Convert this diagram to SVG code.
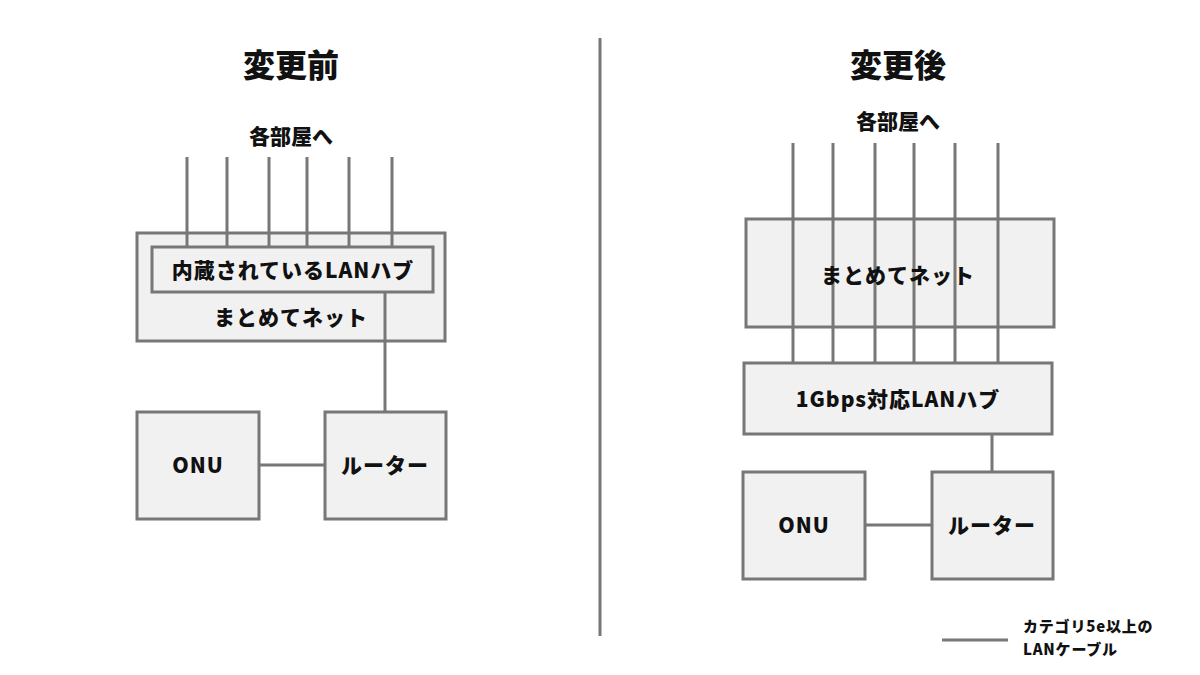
<svg xmlns="http://www.w3.org/2000/svg" width="1200" height="675" viewBox="0 0 1200 675">
<style>
.box{fill:#f1f1f1;stroke:#777;stroke-width:3}
.ln{stroke:#777;stroke-width:3;fill:none}
text{font-family:"Noto Sans CJK JP","Liberation Sans",sans-serif;font-weight:900;fill:#111;text-anchor:middle}
.title{font-size:32px}
.sub{font-size:21px}
.lbl{font-size:21px;letter-spacing:1px}
.leg{font-size:15px;letter-spacing:0.8px;text-anchor:start}
</style>
<rect width="1200" height="675" fill="#fff"/>
<g id="divider"><line class="ln" x1="600" y1="38" x2="600" y2="636" stroke-width="4"/></g>
<g id="titles">
<text class="title" x="291" y="77">変更前</text>
<text class="title" x="898" y="77">変更後</text>
<text class="sub" x="291" y="144">各部屋へ</text>
<text class="sub" x="898" y="129">各部屋へ</text>
</g>
<!-- before -->
<g id="before-matome"><rect class="box" x="137" y="233" width="308" height="108"/><text class="lbl" x="291" y="325">まとめてネット</text></g>
<g id="before-hub"><rect class="box" x="152" y="247" width="281" height="45"/><text class="lbl" x="293" y="278">内蔵されているLANハブ</text></g>
<g id="before-onu"><rect class="box" x="137" y="412" width="122" height="107"/><text class="lbl" x="198" y="473">ONU</text></g>
<g id="before-router"><rect class="box" x="325" y="412" width="121" height="107"/><text class="lbl" x="385" y="473">ルーター</text></g>
<!-- after -->
<g id="after-matome"><rect class="box" x="746" y="219" width="308" height="108"/></g>
<g id="after-hub"><rect class="box" x="744" y="363" width="308" height="71"/><text class="lbl" x="898" y="407">1Gbps対応LANハブ</text></g>
<g id="after-onu"><rect class="box" x="743" y="472" width="122" height="107"/><text class="lbl" x="804" y="533">ONU</text></g>
<g id="after-router"><rect class="box" x="932" y="472" width="121" height="107"/><text class="lbl" x="992" y="533">ルーター</text></g>
<g id="connectors">
<line class="ln" x1="187" y1="157" x2="187" y2="247"/>
<line class="ln" x1="227" y1="157" x2="227" y2="247"/>
<line class="ln" x1="269" y1="157" x2="269" y2="247"/>
<line class="ln" x1="307" y1="157" x2="307" y2="247"/>
<line class="ln" x1="349" y1="157" x2="349" y2="247"/>
<line class="ln" x1="392" y1="157" x2="392" y2="247"/>
<line class="ln" x1="385" y1="292" x2="385" y2="412"/>
<line class="ln" x1="259" y1="465" x2="325" y2="465"/>
<line class="ln" x1="793" y1="143" x2="793" y2="363"/>
<line class="ln" x1="833" y1="143" x2="833" y2="363"/>
<line class="ln" x1="875" y1="143" x2="875" y2="363"/>
<line class="ln" x1="914" y1="143" x2="914" y2="363"/>
<line class="ln" x1="955" y1="143" x2="955" y2="363"/>
<line class="ln" x1="998" y1="143" x2="998" y2="363"/>
<line class="ln" x1="992" y1="434" x2="992" y2="472"/>
<line class="ln" x1="865" y1="525" x2="932" y2="525"/>
</g>
<g id="after-matome-label"><text class="lbl" x="898" y="283">まとめてネット</text></g>
<g id="legend">
<line class="ln" x1="942" y1="640" x2="1008" y2="640"/>
<text class="leg" x="1023" y="632">カテゴリ5e以上の</text>
<text class="leg" x="1023" y="655">LANケーブル</text>
</g>
</svg>
